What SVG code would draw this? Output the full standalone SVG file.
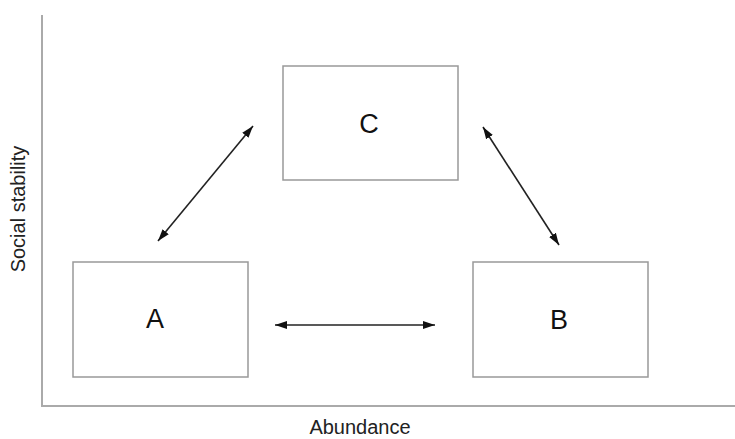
<svg xmlns="http://www.w3.org/2000/svg" width="735" height="439" viewBox="0 0 735 439">
<defs>
<marker id="ah" viewBox="0 0 12 10" refX="12" refY="5" markerWidth="12" markerHeight="10" markerUnits="userSpaceOnUse" orient="auto-start-reverse">
<path d="M0,1 L12,5 L0,9 z" fill="#111"/>
</marker>
<style>
.box{fill:#fff;stroke:#999;stroke-width:1.5}
.lbl{font-family:"Liberation Sans",Arial,sans-serif;font-size:27px;fill:#111;text-anchor:middle}
.axl{font-family:"Liberation Sans",Arial,sans-serif;font-size:20px;fill:#222;text-anchor:middle}
.axis{stroke:#aaa;stroke-width:2;fill:none}
.con{stroke:#222;stroke-width:1.6;fill:none;marker-start:url(#ah);marker-end:url(#ah)}
</style>
</defs>
<rect width="735" height="439" fill="#fff"/>
<g id="axes">
<path class="axis" d="M42,15 L42,406 L735,406"/>
<text class="axl" x="360" y="434">Abundance</text>
<text class="axl" transform="translate(25,209) rotate(-90)">Social stability</text>
</g>
<g id="node-C">
<rect class="box" x="283" y="66" width="175" height="114"/>
<text class="lbl" x="369" y="133">C</text>
</g>
<g id="node-A">
<rect class="box" x="73" y="262" width="175" height="115"/>
<text class="lbl" x="155" y="328">A</text>
</g>
<g id="node-B">
<rect class="box" x="473" y="262" width="175" height="115"/>
<text class="lbl" x="559" y="329">B</text>
</g>
<g id="connectors">
<line class="con" x1="158" y1="241" x2="253" y2="126"/>
<line class="con" x1="483" y1="127" x2="559" y2="245"/>
<line class="con" x1="275" y1="325" x2="435" y2="325"/>
</g>
</svg>
